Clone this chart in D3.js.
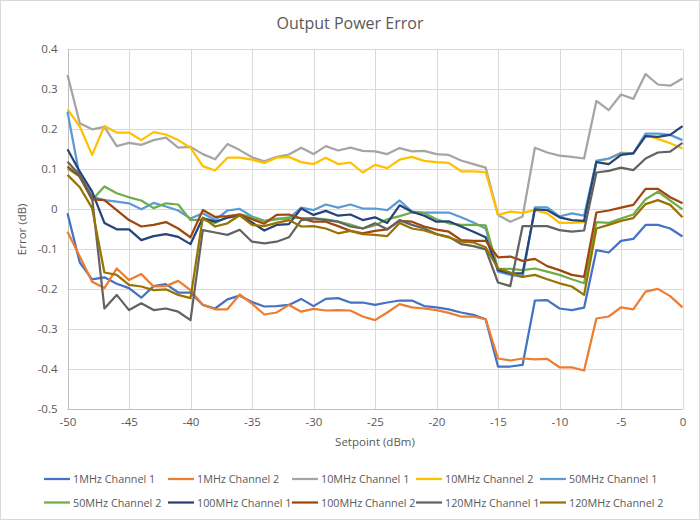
<html>
  <head>
    <meta charset="utf-8">
    <style>
      body { margin: 0; background: #fff; }
      text { font-family: "Open Sans", "Liberation Sans", sans-serif; fill: #595959; }
      .grid line { stroke: #d9d9d9; }
      .axis path, .axis line { stroke: none; }
    </style>
    <script src="https://d3js.org/d3.v7.min.js"></script>
  </head>
  <body>
    <div id="chart"></div>
    <script>
      // setpoints (dBm)
      var setpoints = [-50, -49, -48, -47, -46, -45, -44, -43, -42, -41, -40, -39, -38, -37, -36, -35, -34,
                       -33, -32, -31, -30, -29, -28, -27, -26, -25, -24, -23, -22, -21, -20, -19, -18, -17,
                       -16, -15, -14, -13, -12, -11, -10, -9, -8, -7, -6, -5, -4, -3, -2, -1, 0];

      var names = ["1MHz Channel 1", "1MHz Channel 2", "10MHz Channel 1", "10MHz Channel 2", "50MHz Channel 1",
                   "50MHz Channel 2", "100MHz Channel 1", "100MHz Channel 2", "120MHz Channel 1", "120MHz Channel 2"];
      var colors = ["#4472C4", "#ED7D31", "#A5A5A5", "#FFC000", "#5B9BD5",
                    "#70AD47", "#264478", "#9E480E", "#636363", "#997300"];

      var mhz1ch1 = [-0.01, -0.133, -0.175, -0.17, -0.186, -0.197, -0.221, -0.192, -0.187, -0.208, -0.208, -0.239, -0.248,
                     -0.225, -0.216, -0.232, -0.243, -0.242, -0.239, -0.224, -0.242, -0.224, -0.222, -0.233, -0.233, -0.239,
                     -0.233, -0.228, -0.228, -0.242, -0.245, -0.25, -0.258, -0.264, -0.275, -0.393, -0.393, -0.389, -0.228,
                     -0.227, -0.248, -0.252, -0.246, -0.102, -0.108, -0.079, -0.074, -0.039, -0.039, -0.048, -0.068];
      var mhz1ch2 = [-0.056, -0.118, -0.181, -0.197, -0.148, -0.177, -0.162, -0.193, -0.192, -0.179, -0.202, -0.239, -0.25,
                     -0.25, -0.213, -0.236, -0.263, -0.258, -0.239, -0.256, -0.249, -0.253, -0.252, -0.253, -0.268, -0.277,
                     -0.258, -0.237, -0.245, -0.248, -0.252, -0.259, -0.268, -0.268, -0.275, -0.373, -0.378, -0.373, -0.375,
                     -0.374, -0.395, -0.395, -0.403, -0.273, -0.268, -0.245, -0.25, -0.206, -0.199, -0.217, -0.245];
      var mhz10ch1 = [0.336, 0.215, 0.2, 0.206, 0.158, 0.166, 0.161, 0.173, 0.179, 0.154, 0.156, 0.138, 0.125, 0.163, 0.148,
                      0.13, 0.12, 0.131, 0.137, 0.154, 0.138, 0.158, 0.147, 0.154, 0.146, 0.145, 0.138, 0.153, 0.145, 0.146,
                      0.138, 0.136, 0.122, 0.113, 0.104, -0.014, -0.031, -0.018, 0.154, 0.142, 0.134, 0.131, 0.127, 0.271,
                      0.248, 0.287, 0.276, 0.338, 0.312, 0.309, 0.327];
      var mhz10ch2 = [0.25, 0.207, 0.136, 0.208, 0.192, 0.192, 0.173, 0.193, 0.187, 0.173, 0.154, 0.108, 0.097, 0.129, 0.129,
                      0.124, 0.116, 0.129, 0.131, 0.118, 0.113, 0.129, 0.113, 0.117, 0.092, 0.111, 0.103, 0.124, 0.131, 0.121,
                      0.118, 0.116, 0.095, 0.095, 0.093, -0.014, -0.006, -0.009, -0.002, -0.01, -0.034, -0.034, -0.032, 0.121,
                      0.126, 0.142, 0.14, 0.186, 0.176, 0.165, 0.152];
      var mhz50ch1 = [0.244, 0.08, 0.031, 0.023, 0.019, 0.015, 0.0, 0.016, 0.007, -0.003, -0.023, -0.01, -0.027, -0.003, 0.001,
                      -0.018, -0.029, -0.023, -0.023, 0.004, -0.002, 0.012, 0.004, 0.012, 0.002, 0.002, -0.002, 0.022, -0.006,
                      -0.008, -0.008, -0.008, -0.02, -0.033, -0.048, -0.156, -0.164, -0.169, 0.005, 0.005, -0.018, -0.01,
                      -0.016, 0.121, 0.127, 0.14, 0.14, 0.189, 0.189, 0.186, 0.173];
      var mhz50ch2 = [0.102, 0.082, 0.023, 0.057, 0.04, 0.03, 0.022, 0.003, 0.015, 0.012, -0.027, -0.026, -0.034, -0.019, -0.012,
                      -0.02, -0.03, -0.025, -0.02, -0.022, -0.022, -0.025, -0.031, -0.038, -0.048, -0.04, -0.025, -0.017,
                      -0.008, -0.01, -0.025, -0.035, -0.039, -0.039, -0.04, -0.149, -0.149, -0.152, -0.148, -0.156, -0.164,
                      -0.175, -0.185, -0.032, -0.034, -0.023, -0.013, 0.025, 0.044, 0.022, 0.0];
      var mhz100ch1 = [0.15, 0.094, 0.044, -0.034, -0.05, -0.05, -0.077, -0.067, -0.062, -0.069, -0.087, -0.022, -0.031, -0.021,
                       -0.015, -0.033, -0.053, -0.039, -0.037, 0.002, -0.014, -0.004, -0.016, -0.013, -0.027, -0.02, -0.034,
                       0.01, -0.006, -0.016, -0.031, -0.03, -0.043, -0.056, -0.07, -0.152, -0.16, -0.16, 0.0, -0.002, -0.02,
                       -0.027, -0.029, 0.118, 0.113, 0.136, 0.14, 0.183, 0.181, 0.186, 0.208];
      var mhz100ch2 = [0.107, 0.082, 0.025, 0.023, -0.002, -0.027, -0.043, -0.039, -0.032, -0.048, -0.07, -0.002, -0.019, -0.017,
                       -0.014, -0.025, -0.036, -0.014, -0.013, -0.023, -0.031, -0.031, -0.042, -0.054, -0.06, -0.054, -0.05,
                       -0.029, -0.031, -0.043, -0.051, -0.056, -0.077, -0.079, -0.079, -0.12, -0.118, -0.129, -0.124, -0.142,
                       -0.152, -0.164, -0.169, -0.008, -0.003, 0.004, 0.011, 0.051, 0.051, 0.03, 0.015];
      var mhz120ch1 = [0.119, 0.086, 0.03, -0.248, -0.214, -0.252, -0.235, -0.252, -0.248, -0.256, -0.277, -0.052, -0.058, -0.064,
                       -0.051, -0.081, -0.085, -0.081, -0.07, -0.027, -0.023, -0.027, -0.031, -0.043, -0.048, -0.035, -0.05,
                       -0.027, -0.039, -0.048, -0.062, -0.069, -0.087, -0.092, -0.1, -0.183, -0.192, -0.042, -0.042, -0.042,
                       -0.052, -0.056, -0.053, 0.092, 0.096, 0.104, 0.098, 0.127, 0.142, 0.144, 0.166];
      var mhz120ch2 = [0.086, 0.055, 0.003, -0.158, -0.164, -0.189, -0.193, -0.202, -0.2, -0.214, -0.222, -0.021, -0.043, -0.035,
                       -0.015, -0.039, -0.042, -0.034, -0.027, -0.043, -0.042, -0.048, -0.06, -0.054, -0.062, -0.064, -0.067,
                       -0.034, -0.048, -0.053, -0.062, -0.07, -0.081, -0.083, -0.095, -0.148, -0.158, -0.169, -0.164, -0.175,
                       -0.185, -0.193, -0.214, -0.048, -0.039, -0.029, -0.022, 0.013, 0.023, 0.011, -0.02];

      var series = [mhz1ch1, mhz1ch2, mhz10ch1, mhz10ch2, mhz50ch1, mhz50ch2, mhz100ch1, mhz100ch2, mhz120ch1, mhz120ch2];

      var xTicks = [-50, -45, -40, -35, -30, -25, -20, -15, -10, -5, 0];
      var yTicks = [-0.5, -0.4, -0.3, -0.2, -0.1, 0, 0.1, 0.2, 0.3, 0.4];

      var W = 700, H = 520;
      var svg = d3.select("#chart").append("svg").attr("width", W).attr("height", H);

      svg.append("rect").attr("x", 0.5).attr("y", 0.5).attr("width", W - 1).attr("height", H - 1)
         .attr("fill", "#fff").attr("stroke", "#d9d9d9");

      var x = d3.scaleLinear().domain([-50, 0]).range([67.5, 682.5]);
      var y = d3.scaleLinear().domain([-0.5, 0.4]).range([409.3, 49.3]);

      // grid
      svg.append("g").attr("class", "grid").selectAll("line").data(yTicks).enter().append("line")
         .attr("x1", x(-50)).attr("x2", x(0))
         .attr("y1", function(d) { return Math.round(y(d)) + 0.5; })
         .attr("y2", function(d) { return Math.round(y(d)) + 0.5; });
      svg.append("g").attr("class", "grid").selectAll("line").data(xTicks).enter().append("line")
         .attr("y1", y(0.4)).attr("y2", y(-0.5))
         .attr("x1", function(d) { return Math.round(x(d)) + 0.5; })
         .attr("x2", function(d) { return Math.round(x(d)) + 0.5; });
      // axis lines
      svg.append("line").attr("x1", x(-50)).attr("x2", x(0))
         .attr("y1", Math.round(y(-0.5)) + 0.5).attr("y2", Math.round(y(-0.5)) + 0.5).attr("stroke", "#bfbfbf");
      svg.append("line").attr("y1", y(0.4)).attr("y2", y(-0.5))
         .attr("x1", Math.round(x(-50)) + 0.5).attr("x2", Math.round(x(-50)) + 0.5).attr("stroke", "#bfbfbf");

      var fmt = function(d) { return String(+d.toFixed(1)); };

      var xAxis = d3.axisBottom(x).tickValues(xTicks).tickSize(0).tickPadding(9).tickFormat(fmt);
      svg.append("g").attr("class", "axis").attr("transform", "translate(0," + y(-0.5) + ")").call(xAxis)
         .selectAll("text").style("font-size", "11.5px").style("fill", "#595959");

      var yAxis = d3.axisLeft(y).tickValues(yTicks).tickSize(0).tickPadding(10).tickFormat(fmt);
      svg.append("g").attr("class", "axis").attr("transform", "translate(" + x(-50) + ",0)").call(yAxis)
         .selectAll("text").style("font-size", "11.5px").style("fill", "#595959");

      // lines
      var line = d3.line()
         .x(function(d, i) { return x(setpoints[i]); })
         .y(function(d) { return y(d); });

      svg.append("g").selectAll("path").data(series).enter().append("path")
         .attr("d", line)
         .attr("fill", "none")
         .attr("stroke", function(d, i) { return colors[i]; })
         .attr("stroke-width", 2.25)
         .attr("stroke-linejoin", "round");

      // titles
      svg.append("text").attr("x", 350).attr("y", 29).attr("text-anchor", "middle")
         .style("font-size", "16px").text("Output Power Error");
      svg.append("text").attr("x", 375).attr("y", 446).attr("text-anchor", "middle")
         .style("font-size", "11.5px").text("Setpoint (dBm)");
      svg.append("text").attr("transform", "translate(26," + y(-0.05) + ") rotate(-90)")
         .attr("text-anchor", "middle").style("font-size", "11.5px").text("Error (dB)");

      // legend
      var legend = svg.append("g").selectAll("g").data(names).enter().append("g")
         .attr("transform", function(d, i) {
            return "translate(" + (44 + (i % 5) * 124) + "," + (479 + Math.floor(i / 5) * 23.5) + ")";
         });
      legend.append("line").attr("x1", 0).attr("x2", 26).attr("y1", 0).attr("y2", 0)
         .attr("stroke", function(d, i) { return colors[i]; }).attr("stroke-width", 2.25);
      legend.append("text").attr("x", 29).attr("y", 4).style("font-size", "10.8px").text(function(d) { return d; });
    </script>
  </body>
</html>
